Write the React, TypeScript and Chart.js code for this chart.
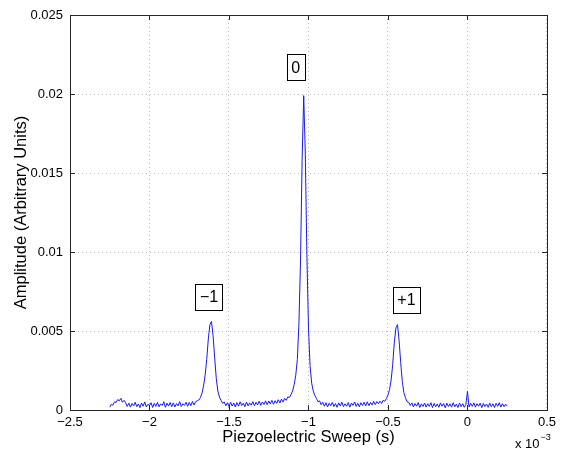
import React, { useEffect, useRef } from "react";
import { Chart, registerables } from "chart.js";

Chart.register(...registerables);

// Sweep sampling grid (units of 10^-3 s)
const sweepStart = -2.25;
const sweepStep = 0.01;

// Amplitude samples, one per sweep step (-2.25 … 0.25)
const amplitude: number[] = [
  0.00018, 0.00036, 0.00031, 0.00052, 0.00047, 0.00066, 0.00058, 0.00074, 0.00049, 0.00061,
  0.00046, 0.00022, 0.00043, 0.00018, 0.00041, 0.00026, 0.00049, 0.00021, 0.00038, 0.00015,
  0.00044, 0.00024, 0.00051, 0.00019, 0.00037, 0.00027, 0.00046, 0.00016, 0.00042, 0.00023,
  0.00048, 0.0002, 0.00039, 0.00028, 0.00052, 0.00017, 0.00043, 0.00025, 0.00047, 0.00021,
  0.00045, 0.00019, 0.00041, 0.00026, 0.00053, 0.00022, 0.0004, 0.00029, 0.00049, 0.00023,
  0.00048, 0.00027, 0.00054, 0.00031, 0.00052, 0.00058, 0.00063, 0.00078, 0.00106, 0.00152,
  0.0022, 0.0032, 0.0045, 0.0054, 0.0056, 0.0047, 0.0033, 0.002, 0.0012, 0.00082,
  0.00061, 0.00042, 0.00051, 0.00027, 0.00046, 0.00022, 0.00049, 0.00025, 0.00044, 0.00019,
  0.00047, 0.00024, 0.00052, 0.00028, 0.00043, 0.00021, 0.0005, 0.00026, 0.00045, 0.0003,
  0.00053, 0.00027, 0.00049, 0.00032, 0.00056, 0.00029, 0.00051, 0.00035, 0.00058, 0.00033,
  0.00057, 0.00038, 0.00061, 0.00036, 0.00059, 0.00042, 0.00065, 0.00044, 0.00069, 0.0005,
  0.00074, 0.00061, 0.00083, 0.00079, 0.00098, 0.0012, 0.0016, 0.0022, 0.0032, 0.0055,
  0.0095, 0.0158, 0.0199, 0.0162, 0.0098, 0.0052, 0.0028, 0.0017, 0.0012, 0.00092,
  0.00074, 0.00052, 0.00058, 0.00033, 0.00049, 0.00024, 0.00046, 0.00019, 0.00043, 0.00027,
  0.00048, 0.00022, 0.00041, 0.00017, 0.00045, 0.00026, 0.0005, 0.00021, 0.00039, 0.00024,
  0.00047, 0.00018, 0.00044, 0.00029, 0.00051, 0.00023, 0.00042, 0.0002, 0.00046, 0.00028,
  0.00049, 0.00025, 0.00052, 0.00027, 0.00048, 0.00031, 0.00055, 0.00034, 0.00053, 0.0004,
  0.00056, 0.00041, 0.00062, 0.00055, 0.00072, 0.00094, 0.0013, 0.0019, 0.0029, 0.0043,
  0.0052, 0.0054, 0.0044, 0.003, 0.0018, 0.0011, 0.00078, 0.00052, 0.00049, 0.00029,
  0.00045, 0.00019, 0.00041, 0.00024, 0.00047, 0.00016, 0.00039, 0.00022, 0.00044, 0.00018,
  0.0004, 0.00023, 0.00046, 0.00015, 0.00042, 0.00021, 0.00038, 0.00017, 0.00045, 0.00024,
  0.00041, 0.00014, 0.00043, 0.00022, 0.00039, 0.00018, 0.00046, 0.0002, 0.00037, 0.00016,
  0.00044, 0.00021, 0.0004, 0.00017, 0.00035, 0.00118, 0.00019, 0.00042, 0.00023, 0.00045,
  0.00018, 0.0004, 0.00024, 0.00043, 0.00015, 0.00041, 0.00022, 0.00038, 0.00017, 0.00044,
  0.0002, 0.00039, 0.00016, 0.00042, 0.00023, 0.00046, 0.00018, 0.0004, 0.00021, 0.00037,
  0.00025,
];

// Order labels placed on the plot (data coordinates)
const orderLabels = ["\u22121", "0", "+1"];
const orderLabelX = [-1.625, -1.081, -0.384];
const orderLabelY = [0.00718, 0.02168, 0.00696];

const xTicks = [-2.5, -2, -1.5, -1, -0.5, 0, 0.5];
const yTicks = [0, 0.005, 0.01, 0.015, 0.02, 0.025];

const FONT = "'Liberation Sans', Arial, Helvetica, sans-serif";

const fmtX = (v: number) => (v < 0 ? "\u2212" + String(Math.abs(v)) : String(v));
const fmtY = (v: number) => String(parseFloat(v.toFixed(3)));

const matlabPlugin = {
  id: "matlabDecor",
  afterDatasetsDraw(chart: any) {
    const { ctx, chartArea, scales } = chart;
    const { left, right, top, bottom } = chartArea;
    const xs = scales.x;
    const ys = scales.y;
    ctx.save();
    ctx.strokeStyle = "#262626";
    ctx.lineWidth = 1;
    ctx.setLineDash([]);
    ctx.strokeRect(Math.round(left) + 0.5, Math.round(top) + 0.5, Math.round(right - left), Math.round(bottom - top));
    const tl = 5;
    ctx.beginPath();
    xTicks.forEach((t) => {
      const px = Math.round(xs.getPixelForValue(t)) + 0.5;
      ctx.moveTo(px, bottom);
      ctx.lineTo(px, bottom - tl);
      ctx.moveTo(px, top);
      ctx.lineTo(px, top + tl);
    });
    yTicks.forEach((t) => {
      const py = Math.round(ys.getPixelForValue(t)) + 0.5;
      ctx.moveTo(left, py);
      ctx.lineTo(left + tl, py);
      ctx.moveTo(right, py);
      ctx.lineTo(right - tl, py);
    });
    ctx.stroke();

    // order labels in boxes
    ctx.font = `16px ${FONT}`;
    ctx.textAlign = "center";
    ctx.textBaseline = "middle";
    orderLabels.forEach((lab, i) => {
      const cx = xs.getPixelForValue(orderLabelX[i]);
      const cy = ys.getPixelForValue(orderLabelY[i]);
      const w = ctx.measureText(lab).width + 9;
      const h = 26;
      const bx = Math.round(cx - w / 2) + 0.5;
      const by = Math.round(cy - h / 2) + 0.5;
      ctx.fillStyle = "#ffffff";
      ctx.fillRect(bx, by, Math.round(w), h);
      ctx.strokeStyle = "#000000";
      ctx.strokeRect(bx, by, Math.round(w), h);
      ctx.fillStyle = "#000000";
      ctx.fillText(lab, cx, cy + 1);
    });

    // exponent note under the x axis
    ctx.textAlign = "left";
    ctx.textBaseline = "alphabetic";
    ctx.font = `13px ${FONT}`;
    const base = "x 10";
    const ex = 515;
    ctx.fillText(base, ex, 448);
    const bw = ctx.measureText(base).width;
    ctx.font = `9px ${FONT}`;
    ctx.fillText("\u22123", ex + bw + 1, 440);
    ctx.restore();
  },
};

export default function App() {
  const ref = useRef<HTMLCanvasElement | null>(null);
  useEffect(() => {
    if (!ref.current) return;
    const points = amplitude.map((y, i) => ({ x: sweepStart + i * sweepStep, y }));
    const gridColor = "rgba(0,0,0,0.28)";
    const chart = new Chart(ref.current, {
      type: "line",
      data: {
        datasets: [
          {
            data: points,
            borderColor: "rgb(25,25,235)",
            borderWidth: 1,
            pointRadius: 0,
            tension: 0,
            fill: false,
          },
        ],
      },
      options: {
        responsive: false,
        animation: false,
        devicePixelRatio: 1,
        parsing: false as any,
        layout: { padding: { top: 15, right: 12, left: 0, bottom: 0 } },
        plugins: { legend: { display: false }, tooltip: { enabled: false } },
        scales: {
          x: {
            type: "linear",
            min: -2.5,
            max: 0.5,
            afterFit: (s: any) => {
              s.height = 48;
            },
            afterBuildTicks: (s: any) => {
              s.ticks = xTicks.map((v) => ({ value: v }));
            },
            ticks: {
              callback: (v: any) => fmtX(Number(v)),
              font: { family: FONT, size: 13 },
              color: "#000",
              padding: 5,
              maxRotation: 0,
              autoSkip: false,
            },
            grid: { color: gridColor, drawTicks: false, lineWidth: 1 },
            border: { display: false, dash: [1, 3] },
            title: {
              display: true,
              text: "Piezoelectric Sweep (s)",
              font: { family: FONT, size: 16.5 },
              color: "#000",
              padding: { top: 0, bottom: 11 },
            },
          },
          y: {
            type: "linear",
            min: 0,
            max: 0.025,
            afterFit: (s: any) => {
              s.width = 70;
            },
            afterBuildTicks: (s: any) => {
              s.ticks = yTicks.map((v) => ({ value: v }));
            },
            ticks: {
              callback: (v: any) => fmtY(Number(v)),
              font: { family: FONT, size: 13 },
              color: "#000",
              padding: 7,
              autoSkip: false,
            },
            grid: { color: gridColor, drawTicks: false, lineWidth: 1 },
            border: { display: false, dash: [1, 3] },
            title: {
              display: true,
              text: "Amplitude (Arbitrary Units)",
              font: { family: FONT, size: 16.5 },
              color: "#000",
              padding: { top: 12, bottom: 0 },
            },
          },
        },
      },
      plugins: [matlabPlugin],
    } as any);
    return () => chart.destroy();
  }, []);
  return (
    <div style={{ position: "fixed", left: 0, top: 0, width: 561, height: 458, background: "#fff" }}>
      <canvas ref={ref} width={561} height={458} style={{ width: 561, height: 458, display: "block" }} />
    </div>
  );
}
